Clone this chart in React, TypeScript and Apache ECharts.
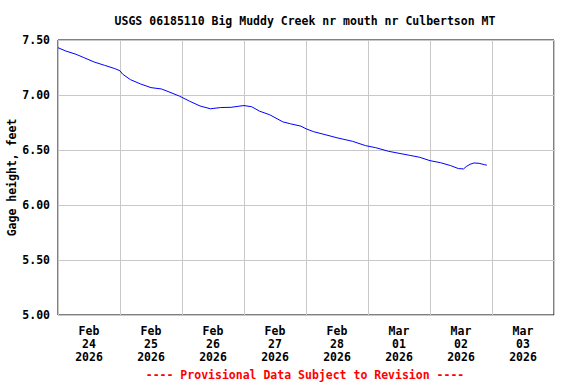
import React, { useEffect, useRef } from "react";
import * as echarts from "echarts";

const dayLabels = [
  "Feb\n24\n2026",
  "Feb\n25\n2026",
  "Feb\n26\n2026",
  "Feb\n27\n2026",
  "Feb\n28\n2026",
  "Mar\n01\n2026",
  "Mar\n02\n2026",
  "Mar\n03\n2026",
];

// hours since 2026-02-24 00:00
const hours = [
  0, 3, 7, 10, 14, 18, 22, 24, 25, 28, 32, 36, 40, 43, 47, 51, 55, 59, 63, 67,
  70, 72, 75, 78, 82, 87, 90, 94, 96, 99, 103, 108, 114, 119, 123, 128, 132,
  136, 140, 144, 148, 152, 155, 157, 158, 159.5, 161, 163, 165, 166,
];
const gageFeet = [
  7.43, 7.4, 7.37, 7.34, 7.3, 7.27, 7.24, 7.22, 7.19, 7.14, 7.1, 7.067, 7.055,
  7.028, 6.99, 6.943, 6.9, 6.875, 6.886, 6.888, 6.898, 6.904, 6.893, 6.853,
  6.82, 6.756, 6.738, 6.717, 6.693, 6.666, 6.642, 6.611, 6.579, 6.54, 6.521,
  6.488, 6.47, 6.452, 6.434, 6.403, 6.385, 6.358, 6.331, 6.328, 6.349, 6.37,
  6.382, 6.379, 6.367, 6.362,
];

const yTicks = { min: 5, max: 7.5, step: 0.5 };

const titleText = "USGS 06185110 Big Muddy Creek nr mouth nr Culbertson MT";
const footerText = "---- Provisional Data Subject to Revision ----";

const FONT = "'DejaVu Sans Mono', monospace";
const FS = 11.5;

export default function App() {
  const ref = useRef<HTMLDivElement>(null);
  useEffect(() => {
    if (!ref.current) return;
    const chart = echarts.init(ref.current, null, { renderer: "svg" });
    const data = hours.map((h, i) => [h, gageFeet[i]]);
    chart.setOption({
      animation: false,
      backgroundColor: "#fff",
      graphic: [
        {
          type: "text",
          x: 305,
          y: 21,
          style: {
            text: titleText,
            fill: "#000",
            font: `bold ${FS}px ${FONT}`,
            textAlign: "center",
            textVerticalAlign: "middle",
          },
        },
        {
          type: "text",
          x: 305,
          y: 375,
          style: {
            text: footerText,
            fill: "#ff0000",
            font: `bold ${FS}px ${FONT}`,
            textAlign: "center",
            textVerticalAlign: "middle",
          },
        },
      ],
      grid: {
        left: 58,
        right: 22,
        top: 40,
        bottom: 69,
        show: true,
        borderColor: "#000",
        borderWidth: 1,
        backgroundColor: "transparent",
        outerBoundsMode: "none",
        containLabel: false,
      },
      xAxis: [
        {
          type: "category",
          data: dayLabels,
          boundaryGap: true,
          axisLine: { show: false },
          axisTick: { show: false },
          splitLine: { show: true, lineStyle: { color: "#c8c8c8", width: 1 } },
          axisLabel: {
            interval: 0,
            margin: 9,
            fontFamily: FONT,
            fontSize: FS,
            fontWeight: "bold",
            color: "#000",
            lineHeight: 13,
          },
        },
        {
          type: "value",
          min: 0,
          max: 192,
          show: false,
        },
      ],
      yAxis: {
        type: "value",
        min: yTicks.min,
        max: yTicks.max,
        interval: yTicks.step,
        name: "Gage height, feet",
        nameLocation: "middle",
        nameGap: 40,
        nameMoveOverlap: false,
        nameTextStyle: { fontFamily: FONT, fontSize: FS, fontWeight: "bold", color: "#000" },
        axisLine: { show: false },
        axisTick: { show: false },
        splitLine: { show: true, lineStyle: { color: "#c8c8c8", width: 1 } },
        axisLabel: {
          margin: 8,
          fontFamily: FONT,
          fontSize: FS,
          fontWeight: "bold",
          color: "#000",
          formatter: (v: number) => v.toFixed(2),
        },
      },
      series: [
        {
          type: "line",
          xAxisIndex: 1,
          data,
          showSymbol: false,
          lineStyle: { color: "#0000ff", width: 1 },
          itemStyle: { color: "#0000ff" },
        },
      ],
    });
    return () => chart.dispose();
  }, []);
  return (
    <div
      ref={ref}
      style={{ position: "absolute", left: 0, top: 0, width: 576, height: 384 }}
    />
  );
}
